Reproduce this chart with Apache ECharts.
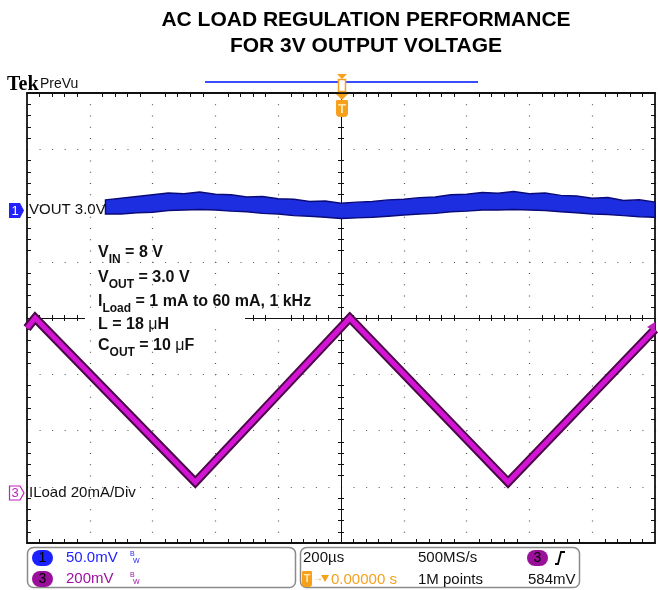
<!DOCTYPE html>
<html>
<head>
<meta charset="utf-8">
<script src="https://cdn.jsdelivr.net/npm/echarts@6/dist/echarts.min.js"></script>
<style>
  html, body { margin: 0; padding: 0; background: #fff; }
  #chart { width: 658px; height: 590px; }
</style>
</head>
<body>
<div id="chart"></div>
<script>
// scope screen in divisions: x -5..5 (200us/div), y -4..4
// CH1 VOUT (50mV/div) noise band
const voutX = [-3.75, -3.5, -3.25, -3, -2.75, -2.5, -2.25, -2, -1.75, -1.5, -1.25, -1, -0.75, -0.5, -0.25,
  0, 0.25, 0.5, 0.75, 1, 1.25, 1.5, 1.75, 2, 2.25, 2.5, 2.75, 3, 3.25, 3.5, 3.75, 4, 4.25, 4.5, 4.75, 5];
const voutHigh = [2.10, 2.13, 2.16, 2.19, 2.22, 2.21, 2.24, 2.20, 2.19, 2.15, 2.16, 2.12, 2.11, 2.07, 2.08,
  2.04, 2.06, 2.07, 2.10, 2.11, 2.14, 2.15, 2.19, 2.20, 2.23, 2.22, 2.25, 2.21, 2.22, 2.18, 2.17, 2.13, 2.14, 2.09, 2.10, 2.06];
const voutLow = [1.85, 1.85, 1.87, 1.88, 1.91, 1.92, 1.93, 1.92, 1.90, 1.89, 1.86, 1.85, 1.82, 1.81, 1.79,
  1.77, 1.78, 1.79, 1.81, 1.83, 1.85, 1.86, 1.89, 1.90, 1.92, 1.92, 1.93, 1.92, 1.91, 1.89, 1.87, 1.85, 1.84, 1.82, 1.80, 1.79];

// CH3 ILoad (20mA/div) triangle corners
const iloadX = [-5, -4.87, -2.32, 0.14, 2.66, 5];
const iloadY = [-0.18, 0, -2.92, 0, -2.92, -0.2];

const FONT = '"Liberation Sans", Arial, sans-serif';
const ORANGE = '#f6a01c';
const BLUE = '#2222ff';
const PURPLE = '#a010a0';
const INK = '#111';

const chart = echarts.init(document.getElementById('chart'));

function xAx(opt) {
  return {
    type: 'value', min: -5, max: 5, interval: 1,
    position: opt.position,
    axisLabel: { show: false },
    axisLine: { show: true, onZero: opt.onZero, lineStyle: { color: INK, width: opt.w } },
    axisTick: { show: false, inside: opt.inside },
    minorTick: { show: true, splitNumber: 5, length: opt.len, lineStyle: { color: INK, width: 1 } },
    splitLine: opt.split ? { show: true, lineStyle: { color: '#555', width: 1.2, type: [1, 10.25] } } : { show: false }
  };
}
function yAx(opt) {
  return {
    type: 'value', min: -4, max: 4, interval: 1,
    position: opt.position,
    axisLabel: { show: false },
    axisLine: { show: true, onZero: opt.onZero, lineStyle: { color: INK, width: opt.w } },
    axisTick: { show: false, inside: opt.inside },
    minorTick: { show: true, splitNumber: 5, length: opt.len, lineStyle: { color: INK, width: 1 } },
    splitLine: opt.split ? { show: true, lineStyle: { color: '#555', width: 1.2, type: [1, 11.56] } } : { show: false }
  };
}

const sub = { fontSize: 12, fontWeight: 'bold', fontFamily: FONT, padding: [14, 0, 0, 0] };
const mu = { fontSize: 16, fontWeight: 'normal', fontFamily: FONT };
function note(y, text) {
  return { type: 'text', x: 98, y: y, style: { text: text, font: 'bold 16px ' + FONT, fill: '#111',
    textVerticalAlign: 'middle', rich: { s: sub, u: mu } } };
}
function txt(x, y, text, size, fill, align, weight) {
  return { type: 'text', x: x, y: y, style: { text: text, font: (weight || 'normal') + ' ' + size + 'px ' + FONT,
    fill: fill || INK, textAlign: align || 'left', textVerticalAlign: 'middle' } };
}

const graphics = [
  txt(366, 20, 'AC LOAD REGULATION PERFORMANCE', 21, '#000', 'center', 'bold'),
  txt(366, 46, 'FOR 3V OUTPUT VOLTAGE', 21, '#000', 'center', 'bold'),
  { type: 'text', x: 7, y: 85, style: { text: 'Tek', font: 'bold 20px "Liberation Serif", serif', fill: '#000', textVerticalAlign: 'middle' } },
  txt(40, 84, 'PreVu', 14, INK),
  { type: 'line', shape: { x1: 205, y1: 82, x2: 478, y2: 82 }, style: { stroke: '#3a4cff', lineWidth: 2 } },
  // trigger position markers
  { type: 'polygon', shape: { points: [[337, 74], [347, 74], [342, 79]] }, style: { fill: ORANGE } },
  { type: 'rect', shape: { x: 338.5, y: 79.5, width: 7, height: 12 }, style: { fill: '#fff', stroke: ORANGE, lineWidth: 1.5 } },
  { type: 'polygon', shape: { points: [[336, 94], [348, 94], [342, 100]] }, style: { fill: ORANGE } },
  { type: 'rect', shape: { x: 336, y: 100, width: 12, height: 17, r: [1, 1, 4, 4] }, style: { fill: ORANGE } },
  txt(342, 109, 'T', 13, '#ffe9b0', 'center', 'bold'),
  // channel 1 label
  { type: 'polygon', shape: { points: [[9, 203], [20, 203], [24, 210.5], [20, 218], [9, 218]] }, style: { fill: BLUE } },
  txt(15, 211, '1', 13, '#fff', 'center'),
  txt(29, 210, 'VOUT 3.0V', 15, INK),
  // channel 3 label
  { type: 'polygon', shape: { points: [[9.5, 486], [20, 486], [24, 493], [20, 500], [9.5, 500]] }, style: { fill: '#fff', stroke: '#c020c0', lineWidth: 1.2 } },
  txt(15, 493.5, '3', 13, '#c020c0', 'center'),
  txt(29, 493, 'ILoad 20mA/Div', 15, INK),
  // ch3 trigger level marker on right edge
  { type: 'polygon', shape: { points: [[647, 327], [655, 322], [655, 332]] }, style: { fill: '#c020c0' } },
  // annotation block
  { type: 'rect', shape: { x: 85, y: 313, width: 160, height: 11 }, style: { fill: '#fff' } },
  note(253, 'V{s|IN} = 8 V'),
  note(278, 'V{s|OUT} = 3.0 V'),
  note(302, 'I{s|Load} = 1 mA to 60 mA, 1 kHz'),
  note(325, 'L = 18 {u|μ}H'),
  note(346, 'C{s|OUT} = 10 {u|μ}F'),
  // status bar
  { type: 'rect', shape: { x: 27.5, y: 547.5, width: 268, height: 40, r: 6 }, style: { fill: 'none', stroke: '#8a8a8a', lineWidth: 1.5 } },
  { type: 'rect', shape: { x: 300.5, y: 547.5, width: 279, height: 40, r: 6 }, style: { fill: 'none', stroke: '#8a8a8a', lineWidth: 1.5 } },
  { type: 'rect', shape: { x: 32, y: 550, width: 21, height: 16, r: 8 }, style: { fill: '#1a22ff' } },
  txt(42.5, 558.5, '1', 14, '#000', 'center'),
  { type: 'rect', shape: { x: 32, y: 571, width: 21, height: 16, r: 8 }, style: { fill: '#9a109a' } },
  txt(42.5, 579.5, '3', 14, '#000', 'center'),
  txt(66, 558, '50.0mV', 15, BLUE),
  txt(66, 579, '200mV', 15, PURPLE),
  txt(130, 554, 'B', 7, BLUE), txt(133, 561, 'W', 7, BLUE),
  txt(130, 575, 'B', 7, PURPLE), txt(133, 582, 'W', 7, PURPLE),
  txt(303, 558, '200µs', 15, INK),
  txt(418, 558, '500MS/s', 15, INK),
  { type: 'rect', shape: { x: 527, y: 550, width: 21, height: 16, r: 8 }, style: { fill: '#9a109a' } },
  txt(537.5, 558.5, '3', 14, '#000', 'center'),
  { type: 'polyline', shape: { points: [[555, 564], [558, 564], [561, 552], [565, 552]] }, style: { stroke: '#000', lineWidth: 1.8, fill: 'none' } },
  { type: 'rect', shape: { x: 302, y: 571, width: 10, height: 16, r: [1, 1, 3, 3] }, style: { fill: ORANGE } },
  txt(307, 579, 'T', 11, '#ffe9b0', 'center', 'bold'),
  txt(313, 578, '→', 10, ORANGE),
  { type: 'polygon', shape: { points: [[321, 575], [329, 575], [325, 582]] }, style: { fill: ORANGE } },
  txt(331, 580, '0.00000 s', 15, ORANGE),
  txt(418, 580, '1M points', 15, INK),
  txt(528, 580, '584mV', 15, INK)
];
graphics.forEach(function (g) { g.z = 100; });

const option = {
  animation: false,
  backgroundColor: '#fff',
  grid: { left: 27, right: 3, top: 93, bottom: 47 },
  xAxis: [
    xAx({ position: 'bottom', onZero: true, inside: true, len: 3, w: 1, split: true }),
    xAx({ position: 'bottom', onZero: true, inside: false, len: 3, w: 1 }),
    xAx({ position: 'top', onZero: false, inside: true, len: 4, w: 1.8 }),
    xAx({ position: 'bottom', onZero: false, inside: true, len: 4, w: 1.8 })
  ],
  yAxis: [
    yAx({ position: 'left', onZero: true, inside: true, len: 3, w: 1, split: true }),
    yAx({ position: 'left', onZero: true, inside: false, len: 3, w: 1 }),
    yAx({ position: 'left', onZero: false, inside: true, len: 4, w: 1.8 }),
    yAx({ position: 'right', onZero: false, inside: true, len: 4, w: 1.8 })
  ],
  graphic: graphics,
  series: [
    {
      type: 'custom',
      name: 'VOUT',
      xAxisIndex: 0, yAxisIndex: 0,
      z: 5,
      encode: { x: 0, y: [1, 2] },
      data: voutX.map(function (x, i) { return [x, voutLow[i], voutHigh[i]]; }),
      renderItem: function (params, api) {
        if (params.dataIndex !== 0) return null;
        const pts = [];
        for (let i = 0; i < voutX.length; i++) pts.push(api.coord([voutX[i], voutHigh[i]]));
        for (let i = voutX.length - 1; i >= 0; i--) pts.push(api.coord([voutX[i], voutLow[i]]));
        return { type: 'polygon', shape: { points: pts }, style: { fill: '#1c2ee0', stroke: '#0a0a78', lineWidth: 1.5 } };
      }
    },
    {
      type: 'line', name: 'ILoad edge', xAxisIndex: 0, yAxisIndex: 0, z: 5,
      showSymbol: false, silent: true,
      lineStyle: { color: '#4a0846', width: 9, join: 'miter' },
      data: iloadX.map(function (x, i) { return [x, iloadY[i]]; })
    },
    {
      type: 'line', name: 'ILoad', xAxisIndex: 0, yAxisIndex: 0, z: 6,
      showSymbol: false, silent: true,
      lineStyle: { color: '#d414d4', width: 5, join: 'miter' },
      data: iloadX.map(function (x, i) { return [x, iloadY[i]]; })
    }
  ]
};
chart.setOption(option);
</script>
</body>
</html>
